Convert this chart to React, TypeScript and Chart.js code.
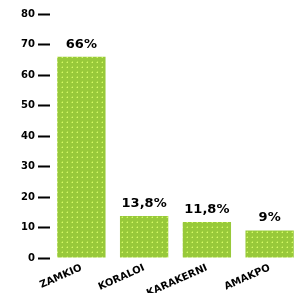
import React, { useEffect, useRef } from "react";
import { Chart, registerables } from "chart.js";

Chart.register(...registerables);

const categories = ["ZAMKIO", "KORALOI", "KARAKERNI", "AMAKPO"];
const values = [66, 13.8, 11.8, 9];
const valueLabels = ["66%", "13,8%", "11,8%", "9%"];

function makePattern(): CanvasPattern | string {
  const c = document.createElement("canvas");
  c.width = 5;
  c.height = 5;
  const ctx = c.getContext("2d");
  if (!ctx) return "#9ccc3a";
  ctx.fillStyle = "#98c93a";
  ctx.fillRect(0, 0, 5, 5);
  ctx.fillStyle = "#d6f86a";
  ctx.fillRect(2, 2, 1, 1);
  ctx.fillStyle = "#b0e048";
  ctx.fillRect(1, 2, 1, 1);
  ctx.fillRect(2, 1, 1, 1);
  const p = ctx.createPattern(c, "repeat");
  return p || "#9ccc3a";
}

const valueLabelPlugin = {
  id: "valueLabels",
  afterDatasetsDraw(chart: any) {
    const ctx = chart.ctx;
    const meta = chart.getDatasetMeta(0);
    ctx.save();
    ctx.fillStyle = "#000";
    ctx.font = "bold 13px 'DejaVu Sans'";
    ctx.textAlign = "center";
    ctx.textBaseline = "bottom";
    meta.data.forEach((bar: any, i: number) => {
      ctx.fillText(valueLabels[i], bar.x, bar.y - 6);
    });
    ctx.restore();
  },
};

export default function App() {
  const ref = useRef<HTMLCanvasElement>(null);
  useEffect(() => {
    document.body.style.margin = "0";
    if (!ref.current) return;
    const chart = new Chart(ref.current, {
      type: "bar",
      data: {
        labels: categories,
        datasets: [
          {
            data: values,
            backgroundColor: makePattern() as any,
            borderWidth: 0,
            categoryPercentage: 0.77,
            barPercentage: 1,
          },
        ],
      },
      options: {
        animation: false,
        responsive: false,
        layout: { padding: { top: 14, right: 1, left: 0, bottom: 0 } },
        plugins: { legend: { display: false }, tooltip: { enabled: false } },
        scales: {
          x: {
            grid: { display: false },
            border: { display: false },
            afterFit: (scale: any) => {
              scale.height = 35;
            },
            ticks: {
              color: "#000",
              font: { family: "'DejaVu Sans'", weight: "bold", size: 10 },
              maxRotation: 24,
              minRotation: 24,
              padding: -4,
            },
          },
          y: {
            min: 0,
            max: 80,
            afterFit: (scale: any) => {
              scale.width = 50;
            },
            grid: {
              drawOnChartArea: false,
              drawTicks: true,
              tickLength: 12,
              tickWidth: 2,
              tickColor: "#000",
            },
            border: { display: false },
            ticks: {
              stepSize: 10,
              color: "#000",
              padding: 3,
              font: { family: "'DejaVu Sans'", weight: "bold", size: 10 },
            },
          },
        },
      },
      plugins: [valueLabelPlugin],
    });
    return () => chart.destroy();
  }, []);
  return <canvas ref={ref} width={302} height={293} style={{ display: "block" }} />;
}
